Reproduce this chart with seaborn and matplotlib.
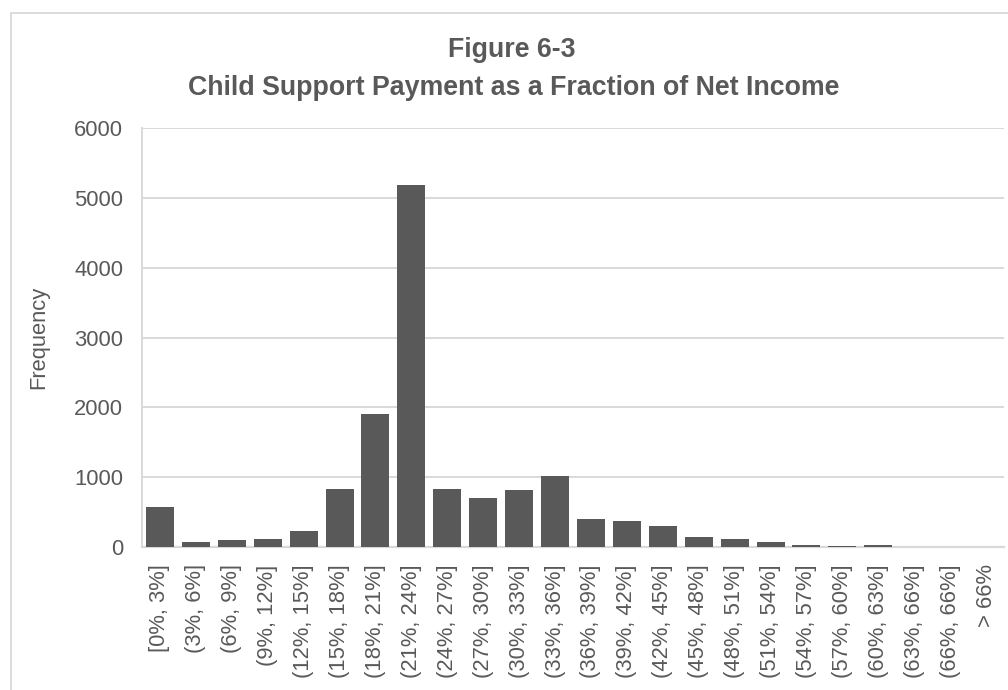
import matplotlib
matplotlib.use("Agg")
import matplotlib.pyplot as plt
from matplotlib.patches import Rectangle
import seaborn as sns
import pandas as pd

# Payment-to-income brackets and the number of cases in each
brackets = [
    "[0%, 3%]", "(3%, 6%]", "(6%, 9%]", "(9%, 12%]", "(12%, 15%]", "(15%, 18%]",
    "(18%, 21%]", "(21%, 24%]", "(24%, 27%]", "(27%, 30%]", "(30%, 33%]", "(33%, 36%]",
    "(36%, 39%]", "(39%, 42%]", "(42%, 45%]", "(45%, 48%]", "(48%, 51%]", "(51%, 54%]",
    "(54%, 57%]", "(57%, 60%]", "(60%, 63%]", "(63%, 66%]", "(66%, 66%]", "> 66%",
]
frequency = [
    575, 75, 100, 115, 230, 830,
    1905, 5180, 830, 705, 820, 1020,
    400, 372, 300, 145, 115, 72,
    30, 15, 30, 0, 0, 0,
]
y_ticks = [0, 1000, 2000, 3000, 4000, 5000, 6000]

title_line1 = "Figure 6-3"
title_line2 = "Child Support Payment as a Fraction of Net Income"
y_label = "Frequency"

TEXT = "#595959"
BAR = "#595959"
GRID = "#d9d9d9"

sns.set_theme(style="white")
plt.rcParams["font.family"] = ["Liberation Sans", "DejaVu Sans"]

df = pd.DataFrame({"bracket": brackets, "count": frequency})

fig = plt.figure(figsize=(10.08, 6.9), dpi=100)
ax = fig.add_axes([142 / 1008, 1 - 547 / 690, 862 / 1008, 419 / 690])

sns.barplot(data=df, x="bracket", y="count", color=BAR, saturation=1,
            width=0.78, ax=ax, zorder=3, linewidth=0)

ax.set_ylim(0, 6000)
ax.set_yticks(y_ticks)
ax.set_yticklabels([str(t) for t in y_ticks])
ax.set_xlim(-0.5, len(brackets) - 0.5)

ax.yaxis.grid(True, color=GRID, linewidth=1.4)
ax.set_axisbelow(True)

for side in ("top", "right"):
    ax.spines[side].set_visible(False)
ax.spines["left"].set_color(GRID)
ax.spines["left"].set_linewidth(1.4)
ax.spines["bottom"].set_color(GRID)
ax.spines["bottom"].set_linewidth(1.6)

ax.tick_params(axis="y", length=0, pad=13.5, labelsize=15.8, labelcolor=TEXT)
ax.tick_params(axis="x", length=0, pad=12.5, labelsize=15.8, labelcolor=TEXT,
               labelrotation=90)

ax.set_xlabel("")
ax.set_ylabel(y_label, fontsize=15.8, color=TEXT)
ax.yaxis.set_label_coords((49 - 142) / 862, 0.5)

title_font = ["Liberation Sans", "DejaVu Sans"]
fig.text(512 / 1008, 1 - 57 / 690, title_line1, ha="center", va="baseline",
         fontsize=19.3, fontweight="bold", color=TEXT, family=title_font)
fig.text(514 / 1008, 1 - 95 / 690, title_line2, ha="center", va="baseline",
         fontsize=19.3, fontweight="bold", color=TEXT, family=title_font)

# light chart-area frame running off the right and bottom edges
fig.patches.append(Rectangle((11 / 1008, -0.2), 1.2, 1.2 - 12.5 / 690,
                             transform=fig.transFigure, fill=False,
                             edgecolor=GRID, linewidth=1.3, zorder=0))

fig.savefig("out.png", dpi=100, facecolor="white")
